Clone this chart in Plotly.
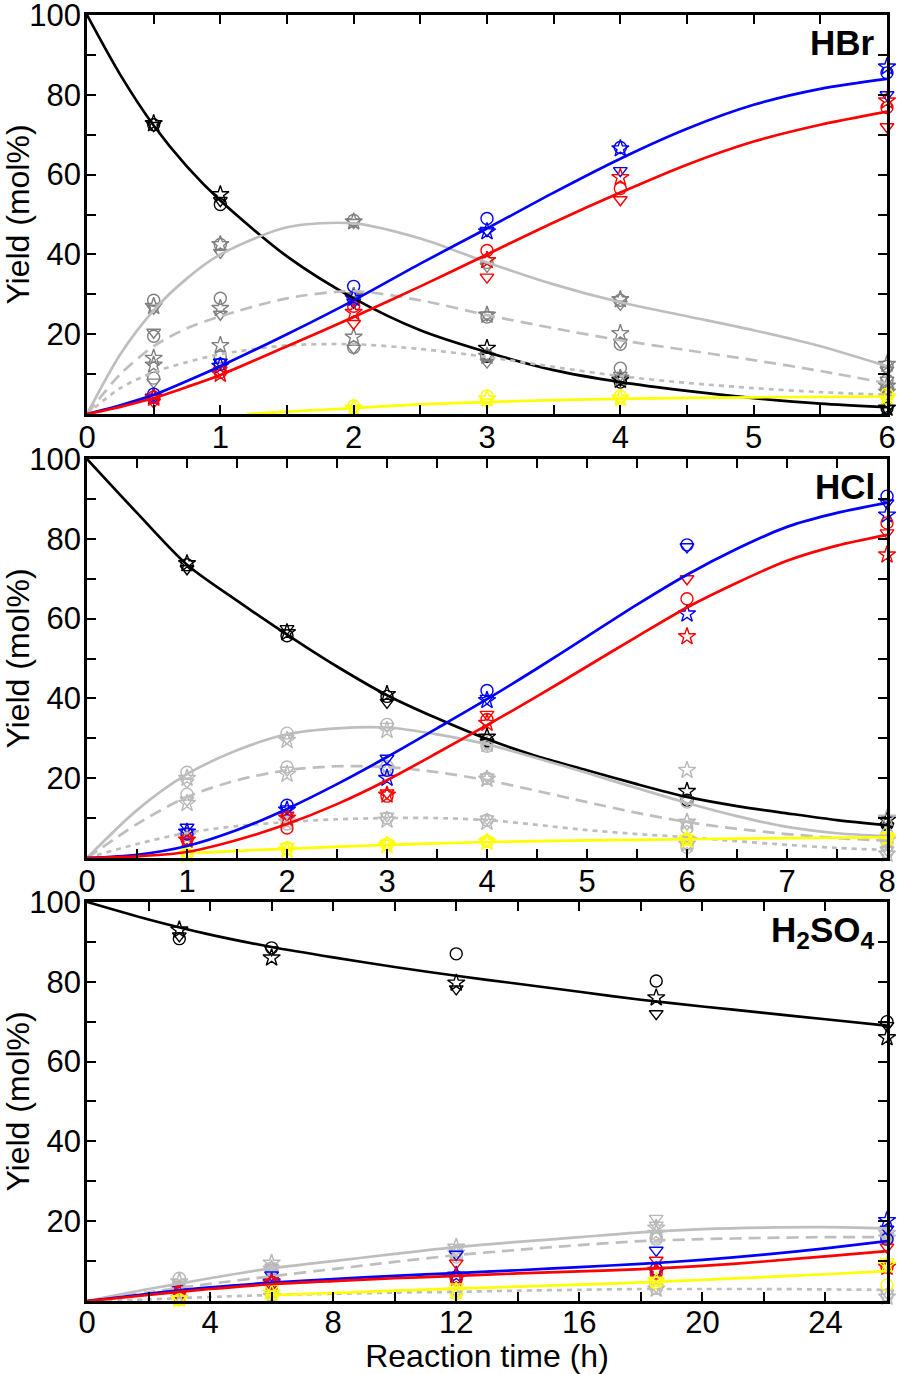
import plotly.graph_objects as go
from plotly.subplots import make_subplots

# ---------------- HBr panel ----------------
hbr_fit_t = [0, 0.25, 0.5, 0.75, 1, 1.5, 2, 2.5, 3, 3.5, 4, 4.5, 5, 5.5, 6]
hbr_fit_black = [100, 85, 72.3, 62, 53.5, 39.5, 29, 21, 15.5, 11, 8, 5.8, 4, 2.6, 1.7]
hbr_fit_lgray = [0, 15, 26, 34, 40, 46.8, 47.8, 44, 38, 32.5, 28, 24.5, 21, 17, 12]
hbr_fit_dash = [0, 10, 17, 21.5, 24.5, 29, 30.8, 28.5, 24.8, 21.5, 18.5, 16, 13.5, 10.8, 7.7]
hbr_fit_dot = [0, 6.5, 10.5, 13, 15, 17.2, 17.5, 16.3, 14.3, 11.8, 9.5, 7.8, 6.5, 5.5, 4.8]
hbr_fit_blue = [0, 2.2, 4.8, 8.3, 12, 20, 28.5, 37.7, 46.5, 55.5, 64, 71.5, 77.5, 81.5, 84]
hbr_fit_red = [0, 1.8, 4, 6.8, 9.8, 17, 24.3, 32, 40, 48, 55.5, 62.5, 68.3, 72.5, 75.8]
hbr_fit_yt = [1.2, 1.5, 2, 2.5, 3, 3.5, 4, 5, 6]
hbr_fit_yellow = [0, 0.6, 1.5, 2.4, 3, 3.5, 3.8, 4.2, 4.4]

hbr_t = [0.5, 1, 2, 3, 4, 6]
hbr_black_o = [72.5, 52.5, 29, 14.5, 8, 1.5]
hbr_black_s = [72.8, 55, 29.5, 16.5, 8.5, 1.5]
hbr_black_v = [72.3, 53.5, 28.5, 14.5, 8.5, 1.3]
hbr_lgray_o = [28.5, 42.5, 48.5, 38, 28.5, 12]
hbr_lgray_s = [27, 42.5, 48.2, 38.5, 28.7, 12.5]
hbr_lgray_v = [26.5, 40.5, 48, 37, 27.5, 11]
hbr_dash_o = [19.5, 29, 29, 24.3, 17.5, 8.5]
hbr_dash_s = [14, 26.5, 29.5, 24.8, 20.2, 7]
hbr_dash_v = [20.5, 25, 28.5, 24.8, 18, 8.5]
hbr_dot_o = [9, 14.3, 16.7, 14.7, 11.5, 6.5]
hbr_dot_s = [12.3, 17.2, 19.3, 14.5, 9, 5.5]
hbr_dot_v = [8, 13, 16.5, 13, 9.7, 6]
hbr_blue_o = [5, 12.5, 32, 49, 66.8, 85.5]
hbr_blue_s = [4.3, 12, 29, 45.7, 66.5, 87]
hbr_blue_v = [4, 13, 28, 46, 61, 80]
hbr_red_o = [4.3, 10.5, 27, 41, 56.5, 76.8]
hbr_red_s = [4, 10, 25.5, 38.5, 59.3, 78.5]
hbr_red_v = [3, 11, 22.7, 34.3, 53.7, 72]
hbr_yel_o = [None, None, 2, 4.5, 4.5, 5]
hbr_yel_s = [None, None, 1.5, 3.8, 4, 4.3]
hbr_yel_v = [None, None, 1.2, 3, 3.5, 3.5]

# ---------------- HCl panel ----------------
hcl_fit_t = [0, 0.5, 1, 1.5, 2, 2.5, 3, 3.5, 4, 4.5, 5, 5.5, 6, 6.5, 7, 7.5, 8]
hcl_fit_black = [100, 86.5, 73.5, 64.5, 56, 48, 40.8, 35, 29.8, 25.5, 22, 18.5, 15.3, 13, 11.2, 9.5, 8.2]
hcl_fit_lgray = [0, 12, 21, 27, 31, 32.5, 32.7, 31, 28.5, 25, 21.3, 17.5, 13.8, 10.5, 7.8, 6.2, 5.5]
hcl_fit_dash = [0, 8.5, 15.3, 19.5, 22, 23, 22.8, 21.5, 19.5, 16.8, 14, 11.3, 9, 7.3, 6, 5, 4.3]
hcl_fit_dot = [0, 3.5, 6.3, 8, 9, 9.7, 10, 10, 9.5, 8.3, 7, 6, 5.2, 4.2, 3.3, 2.5, 2]
hcl_fit_blue = [0, 0.8, 3, 7, 12.3, 18.5, 25.3, 32.5, 39.8, 47.5, 55.5, 63.5, 71, 77.5, 83, 86.5, 89]
hcl_fit_red = [0, 0.4, 1.5, 4.5, 8.5, 13.5, 19.5, 26.3, 33.3, 40.5, 48, 55.5, 62.8, 69, 74.5, 78.3, 81]
hcl_fit_yt = [1.1, 1.5, 2, 3, 4, 5, 6, 7, 8]
hcl_fit_yellow = [1.3, 1.8, 2.3, 3.3, 4, 4.4, 4.7, 5, 5.2]

hcl_t = [1, 2, 3, 4, 6, 8]
hcl_black_o = [73.5, 55.7, 40.5, 29.5, 14.5, 8.3]
hcl_black_s = [73.8, 56.5, 41, 30.3, 16.7, 9.5]
hcl_black_v = [72.5, 57.5, 39, 29, 14.5, 8]
hcl_lgray_o = [21.5, 31.3, 33.5, 28, 14, 6]
hcl_lgray_s = [20, 29.5, 32, 28.5, 22, 10]
hcl_lgray_v = [19, 30, 33, 28.3, 14.5, 5]
hcl_dash_o = [16, 22.8, 23, 20, 7.5, 4]
hcl_dash_s = [13.7, 21, 22, 19.8, 9, 4.5]
hcl_dash_v = [14.5, 22, 22.5, 20.3, 8.5, 4.5]
hcl_dot_o = [6, 8.5, 10, 9.5, 2.7, 1.5]
hcl_dot_s = [5.5, 9, 9.5, 9, 3.5, 1]
hcl_dot_v = [6.5, 9.5, 10.5, 9.8, 3, 2]
hcl_blue_o = [6, 13.2, 22, 42, 78.5, 90.7]
hcl_blue_s = [6.5, 12, 20, 39.5, 61.2, 86]
hcl_blue_v = [7.7, 12.3, 25, 40, 78, 89]
hcl_red_o = [4.7, 7.5, 15.5, 34.7, 65, 84]
hcl_red_s = [4.5, 10, 15.8, 33.8, 55.5, 76]
hcl_red_v = [4.2, 10.7, 16.3, 36, 70, 81.5]
hcl_yel_o = [1, 2.5, 3.5, 4.2, 4.7, 5.2]
hcl_yel_s = [0.8, 2, 3.2, 4, 4.5, 5]
hcl_yel_v = [1.2, 2.8, 3.7, 4.3, 4.9, 5.5]

# ---------------- H2SO4 panel ----------------
hso_fit_t = [0, 2, 4, 6, 8, 10, 12, 14, 16, 18, 20, 22, 24, 26]
hso_fit_black = [100, 95.6, 91.8, 88.7, 86.1, 83.7, 81.5, 79.5, 77.5, 75.5, 73.8, 72.2, 70.6, 69]
hso_fit_lgray = [0, 3, 5.7, 8.2, 10, 11.8, 13.5, 14.8, 16, 17.2, 18, 18.4, 18.5, 18.2]
hso_fit_dash = [0, 2.2, 4.3, 6.2, 8, 9.8, 11.5, 12.8, 14, 15, 15.5, 15.8, 16, 16]
hso_fit_dot = [0, 0.4, 1, 1.5, 1.8, 2.1, 2.3, 2.6, 2.8, 3, 3, 3, 2.9, 2.8]
hso_fit_blue = [0, 1.8, 3.4, 4.6, 5.5, 6.3, 7, 7.7, 8.5, 9.3, 10.3, 11.6, 13.2, 15]
hso_fit_red = [0, 1.5, 3, 4.2, 5, 5.7, 6.3, 6.9, 7.4, 8, 8.8, 9.9, 11.2, 12.5]
hso_fit_yt = [5.8, 8, 10, 12, 14, 16, 18.5, 20, 22, 24, 26]
hso_fit_yellow = [1.4, 2, 2.6, 3.1, 3.6, 4.1, 4.8, 5.3, 6, 6.7, 7.5]

hso_t = [3, 6, 12, 18.5, 26]
hso_black_o = [90.8, 88.5, 87, 80.2, 70]
hso_black_s = [93, 86, 79.7, 76, 66]
hso_black_v = [91.5, 88, 78.2, 72, 69]
hso_lgray_o = [5.7, 8.2, 12.5, 16, 16]
hso_lgray_s = [4.8, 9.5, 13.5, 18.3, 17]
hso_lgray_v = [4.5, 8.5, 12.8, 20.7, 16.5]
hso_dash_o = [3.5, 7.5, 11, 15.5, 15.5]
hso_dash_s = [3, 8, 12, 17, 15.8]
hso_dash_v = [4, 7, 11.5, 19, 16.2]
hso_dot_o = [0.5, 1.5, 2, 3.2, 1.5]
hso_dot_s = [0.7, 1.2, 2.5, 3, 1]
hso_dot_v = [1, 1.8, 2.2, 3.5, 2]
hso_blue_o = [2.5, 4.5, 6, 8, 15.5]
hso_blue_s = [2.3, 4.8, 6.5, 7.5, 20.2]
hso_blue_v = [2.8, 6.5, 11.7, 12.7, 18]
hso_red_o = [2.3, 4.5, 5.5, 7, 8.5]
hso_red_s = [2, 4.5, 5.7, 7.7, 8.5]
hso_red_v = [2.6, 5.2, 9.5, 10.2, 13.5]
hso_yel_o = [0.3, 1, 2, 4.5, 4]
hso_yel_s = [0.5, 2, 2.5, 5, 9]
hso_yel_v = [0.5, 3.2, 3.5, 5.2, 9.8]

panel_labels = ["HBr", "HCl", "H<sub>2</sub>SO<sub>4</sub>"]
x_title = "Reaction time (h)"
y_title = "Yield (mol%)"

# ---------------- styling ----------------
LINE_GRAY = "#bebebe"
C = {"black": "black", "blue": "#0000ff", "red": "#ff0000", "yellow": "#ffff00"}
FONT = "Liberation Sans, Arial, Helvetica, sans-serif"

fig = make_subplots(rows=3, cols=1, vertical_spacing=0.03)

panels = [
    dict(row=1, fit_t=hbr_fit_t, fits=[("black", hbr_fit_black, "solid", C["black"]),
                                        ("lgray", hbr_fit_lgray, "solid", LINE_GRAY),
                                        ("dash", hbr_fit_dash, "12px,7px", LINE_GRAY),
                                        ("dot", hbr_fit_dot, "5px,5px", LINE_GRAY),
                                        ("blue", hbr_fit_blue, "solid", C["blue"]),
                                        ("red", hbr_fit_red, "solid", C["red"])],
         yt=hbr_fit_yt, yfit=hbr_fit_yellow, t=hbr_t, mgray="#808080",
         marks=[(C["black"], hbr_black_o, hbr_black_s, hbr_black_v),
                ("G", hbr_lgray_o, hbr_lgray_s, hbr_lgray_v),
                ("G", hbr_dash_o, hbr_dash_s, hbr_dash_v),
                ("G", hbr_dot_o, hbr_dot_s, hbr_dot_v),
                (C["blue"], hbr_blue_o, hbr_blue_s, hbr_blue_v),
                (C["red"], hbr_red_o, hbr_red_s, hbr_red_v),
                (C["yellow"], hbr_yel_o, hbr_yel_s, hbr_yel_v)]),
    dict(row=2, fit_t=hcl_fit_t, fits=[("black", hcl_fit_black, "solid", C["black"]),
                                        ("lgray", hcl_fit_lgray, "solid", LINE_GRAY),
                                        ("dash", hcl_fit_dash, "12px,7px", LINE_GRAY),
                                        ("dot", hcl_fit_dot, "5px,5px", LINE_GRAY),
                                        ("blue", hcl_fit_blue, "solid", C["blue"]),
                                        ("red", hcl_fit_red, "solid", C["red"])],
         yt=hcl_fit_yt, yfit=hcl_fit_yellow, t=hcl_t, mgray="#b8b8b8",
         marks=[(C["black"], hcl_black_o, hcl_black_s, hcl_black_v),
                ("G", hcl_lgray_o, hcl_lgray_s, hcl_lgray_v),
                ("G", hcl_dash_o, hcl_dash_s, hcl_dash_v),
                ("G", hcl_dot_o, hcl_dot_s, hcl_dot_v),
                (C["blue"], hcl_blue_o, hcl_blue_s, hcl_blue_v),
                (C["red"], hcl_red_o, hcl_red_s, hcl_red_v),
                (C["yellow"], hcl_yel_o, hcl_yel_s, hcl_yel_v)]),
    dict(row=3, fit_t=hso_fit_t, fits=[("black", hso_fit_black, "solid", C["black"]),
                                        ("lgray", hso_fit_lgray, "solid", LINE_GRAY),
                                        ("dash", hso_fit_dash, "12px,7px", LINE_GRAY),
                                        ("dot", hso_fit_dot, "5px,5px", LINE_GRAY),
                                        ("blue", hso_fit_blue, "solid", C["blue"]),
                                        ("red", hso_fit_red, "solid", C["red"])],
         yt=hso_fit_yt, yfit=hso_fit_yellow, t=hso_t, mgray="#b8b8b8",
         marks=[(C["black"], hso_black_o, hso_black_s, hso_black_v),
                ("G", hso_lgray_o, hso_lgray_s, hso_lgray_v),
                ("G", hso_dash_o, hso_dash_s, hso_dash_v),
                ("G", hso_dot_o, hso_dot_s, hso_dot_v),
                (C["blue"], hso_blue_o, hso_blue_s, hso_blue_v),
                (C["red"], hso_red_o, hso_red_s, hso_red_v),
                (C["yellow"], hso_yel_o, hso_yel_s, hso_yel_v)]),
]

symbols = [("circle-open", 12), ("star-open", 13), ("triangle-down-open", 12)]

for p in panels:
    r = p["row"]
    for color, yo, ys, yv in p["marks"]:
        col = p["mgray"] if color == "G" else color
        for (sym, sz), yy in zip(symbols, (yo, ys, yv)):
            fig.add_trace(go.Scatter(x=p["t"], y=yy, mode="markers", cliponaxis=False,
                                     marker=dict(symbol=sym, size=sz, color=col,
                                                 line=dict(color=col, width=1.4)),
                                     showlegend=False, hoverinfo="skip"), row=r, col=1)
    for name, yy, dash, col in p["fits"]:
        fig.add_trace(go.Scatter(x=p["fit_t"], y=yy, mode="lines", cliponaxis=False,
                                 line=dict(color=col, width=2.7, dash=dash, shape="spline", smoothing=0.8),
                                 showlegend=False, hoverinfo="skip"), row=r, col=1)
    fig.add_trace(go.Scatter(x=p["yt"], y=p["yfit"], mode="lines", cliponaxis=False,
                             line=dict(color=C["yellow"], width=2.7, shape="spline", smoothing=0.8),
                             showlegend=False, hoverinfo="skip"), row=r, col=1)

# axes
x_specs = [
    (6, [i * 0.5 for i in range(13)], 1),
    (8, [i * 0.5 for i in range(17)], 1),
    (26, [i * 2 for i in range(14)], 4),
]
dom = [(0.6897, 1.0), (0.3445, 0.6547), (0.0, 0.3103)]
TICKFONT = dict(family=FONT, size=31, color="black")
TITLEFONT = dict(family=FONT, size=32, color="black")
for i, (xmax, vals, lab_step) in enumerate(x_specs):
    texts = [("%g" % v) if abs(v / lab_step - round(v / lab_step)) < 1e-9 else "" for v in vals]
    ax = dict(range=[0, xmax], tickmode="array", tickvals=vals, ticktext=texts,
              ticks="inside", ticklen=9, tickwidth=2.2, tickcolor="black",
              showline=True, linecolor="black", linewidth=2.6, mirror="ticks",
              showgrid=False, zeroline=False, automargin=False,
              ticklabelstandoff=(-8 if i == 2 else -6),
              ticklabeloverflow="allow", tickfont=TICKFONT)
    if i == 2:
        ax["title"] = dict(text=x_title, font=TITLEFONT, standoff=10)
    fig.update_xaxes(row=i + 1, col=1, **ax)
    yvals = list(range(0, 101, 10))
    ytexts = [str(v) if (v % 20 == 0 and v > 0) else "" for v in yvals]
    fig.update_yaxes(row=i + 1, col=1, range=[0, 100], tickmode="array", tickvals=yvals, ticktext=ytexts,
                     ticks="inside", ticklen=9, tickwidth=2.2, tickcolor="black",
                     showline=True, linecolor="black", linewidth=2.6, mirror="ticks",
                     showgrid=False, zeroline=False, domain=list(dom[i]), automargin=False,
                     ticklabelstandoff=-3, ticklabeloverflow="allow",
                     tickfont=TICKFONT,
                     title=dict(text=y_title, font=TITLEFONT, standoff=3))

# panel labels
yrefs = ["y domain", "y2 domain", "y3 domain"]
xrefs = ["x domain", "x2 domain", "x3 domain"]
for i, txt in enumerate(panel_labels):
    fig.add_annotation(text="<b>%s</b>" % txt, xref=xrefs[i], yref=yrefs[i], x=0.987, y=0.985,
                       xanchor="right", yanchor="top", showarrow=False,
                       font=dict(family=FONT, size=35, color="black"))

fig.update_layout(width=898, height=1374, margin=dict(l=87, r=11, t=15, b=73),
                  paper_bgcolor="white", plot_bgcolor="white", showlegend=False)

fig.write_html("out.html", config={"displayModeBar": False},
               post_script="document.body.style.margin='0';document.body.style.overflow='hidden';")
